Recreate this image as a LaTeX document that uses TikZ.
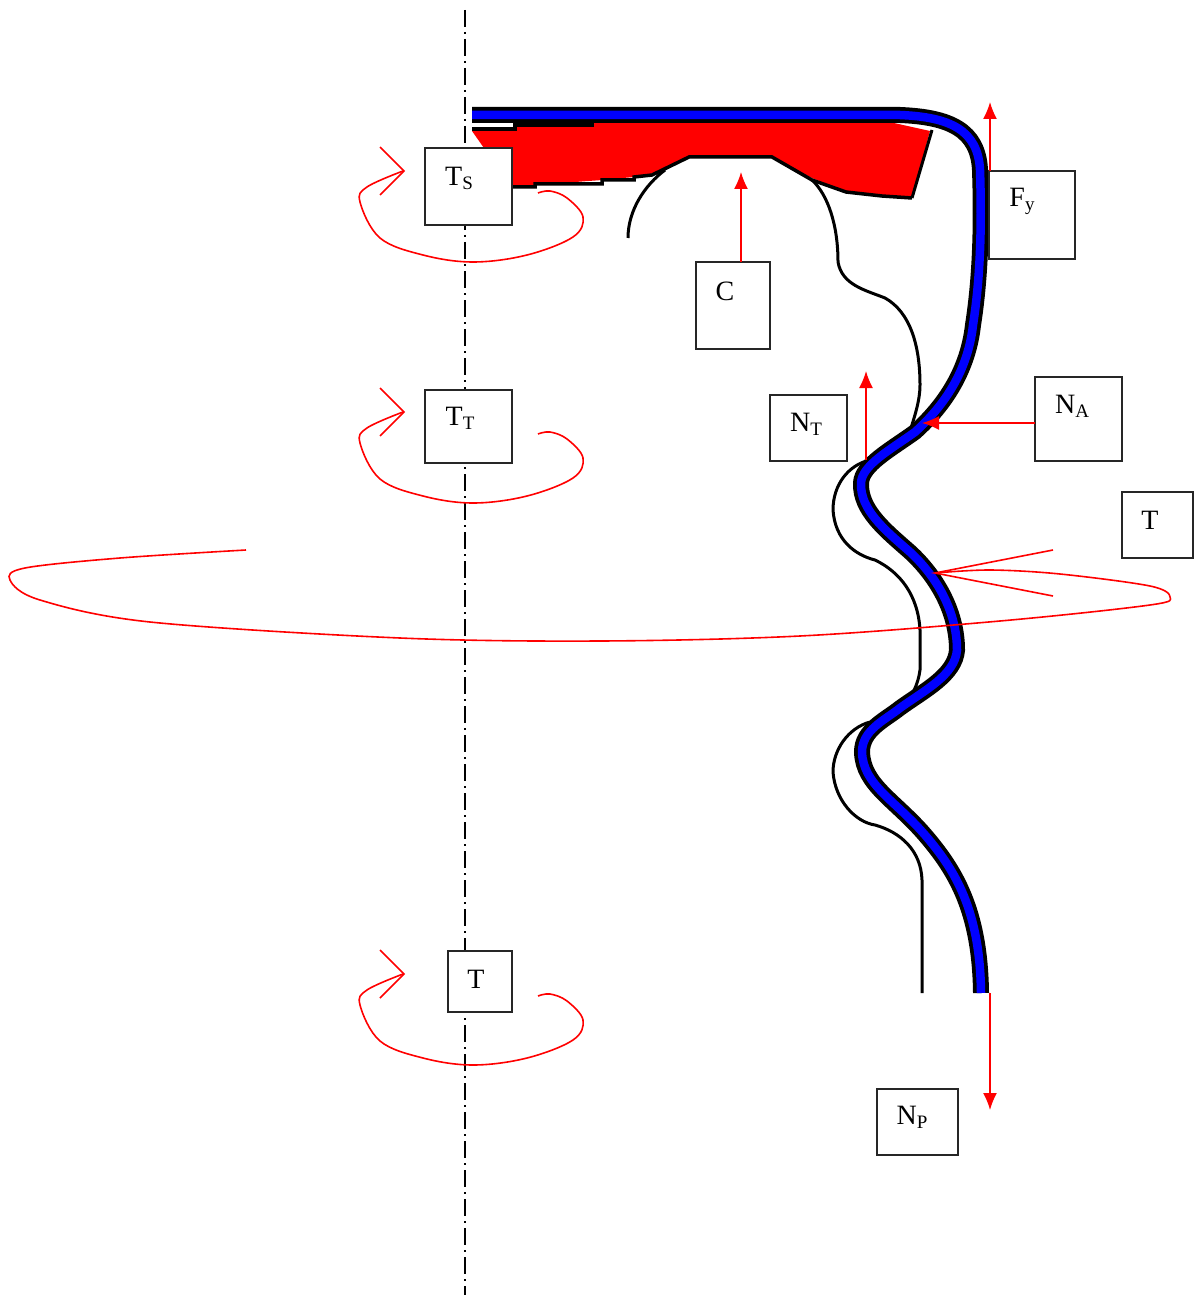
\documentclass[tikz,border=0pt]{standalone}
\usepackage{fontspec}
\setmainfont{Liberation Serif}
\usetikzlibrary{arrows.meta}
\tikzset{
  forcebox/.style = {rectangle,draw=black!85,line width=1.5pt,fill=white,inner sep=0pt,outer sep=0pt},
  forcetext/.style = {inner sep=0pt,font=\fontsize{28}{30}\selectfont},
  redline/.style = {draw=red,line width=1.6pt},
  forcearrow/.style = {redline,-{Latex[length=17pt,width=14pt]}},
  blackline/.style = {draw=black,line width=3pt},
}
\newcommand{\sublabel}[1]{\raisebox{-4pt}{\fontsize{19}{20}\selectfont #1}}
\begin{document}
\begin{tikzpicture}[x=1pt,y=-1pt]
\useasboundingbox (0,0) rectangle (1193,1297);
% axis
\coordinate (axistop) at (465,10);
\coordinate (axisbot) at (465,1295);
\draw[black,line width=1.5pt,dash pattern=on 17pt off 5pt on 2pt off 5pt] (axistop) -- (axisbot);
% red part
\fill[red] (472,131) -- (515,127) -- (594,123) -- (894,123) -- (930,131) -- (912,198)
  -- (882,197) -- (846,192) -- (812,178) -- (772,157) -- (689,157) -- (660,172) -- (634,177)
  -- (602,180) -- (535,185) -- (512,188) -- cycle;
\draw[blackline,line width=4pt] (472,129) -- (515,129) -- (515,125) -- (594,125);
\draw[blackline,line width=3.5pt] (512,187) -- (535,187) -- (535,184) -- (602,184) -- (602,180) -- (634,180)
  -- (634,177) -- (652,175) -- (689,157) -- (772,157) -- (812,180) -- (846,192) -- (882,196) -- (912,198);
\draw[blackline] (912,198) -- (932,130);
% hub
\draw[blackline] (628,238) .. controls (628,210) and (645,185) .. (665,170);
\draw[blackline] (812,180) .. controls (828,195) and (838,225) .. (838,262)
  .. controls (842,285) and (865,290) .. (885,298)
  .. controls (910,312) and (920,345) .. (920,385)
  .. controls (920,400) and (915,415) .. (911,428);
\draw[blackline] (870,460) .. controls (848,465) and (833,485) .. (833,510)
  .. controls (835,540) and (855,555) .. (875,560)
  .. controls (900,572) and (918,595) .. (920,630)
  -- (920,670) .. controls (918,685) and (912,695) .. (907,702);
\draw[blackline] (870,722) .. controls (848,728) and (833,750) .. (833,772)
  .. controls (835,800) and (855,822) .. (875,825)
  .. controls (900,832) and (921,850) .. (922,880) -- (922,993);
% blue sheet
\foreach \col/\wd in {black/16pt,blue/8.5pt}
  \draw[\col,line width=\wd] (472,115) -- (900,115)
    .. controls (950,117) and (978,130) .. (980,170)
    .. controls (982,230) and (980,280) .. (973,325)
    .. controls (968,370) and (945,405) .. (915,432)
    .. controls (890,450) and (862,465) .. (861,483)
    .. controls (860,510) and (885,530) .. (910,552)
    .. controls (935,575) and (957,610) .. (957,650)
    .. controls (955,675) and (925,690) .. (900,708)
    .. controls (885,720) and (862,730) .. (862,752)
    .. controls (863,785) and (895,800) .. (925,835)
    .. controls (955,870) and (980,910) .. (981,993);
% torques
\foreach \ty in {0,241,803}{
  \begin{scope}[yshift=-\ty pt]
  \draw[redline,line join=round] plot[smooth,tension=0.6] coordinates {(538,193) (550,191) (567,198) (583,217) (573,237)
     (527,255) (473,262) (423,255) (380,238) (360,202) (367,187) (403,171)};
  \draw[redline] (380,147) -- (404,171) -- (380,195);
  \end{scope}
}
% big torque
\draw[redline] plot[smooth,tension=0.55] coordinates {(246,550) (120,558) (25,568) (10,580) (40,600) (150,622) (400,638)
   (600,641) (800,636) (1000,621) (1150,605) (1170,597) (1150,586) (1060,574) (990,570) (935,573)};
\draw[redline] (1053,550) -- (935,573) -- (1053,596);
% boxes
\node[forcebox,minimum width=87pt,minimum height=77pt] (tsbox) at (468.5,186.5) {};
\node[forcebox,minimum width=87pt,minimum height=73pt] (ttbox) at (468.5,426.5) {};
\node[forcebox,minimum width=64pt,minimum height=61pt] (tbox) at (480,981.5) {};
\node[forcebox,minimum width=74pt,minimum height=87pt] (cbox) at (733,305.5) {};
\node[forcebox,minimum width=86pt,minimum height=88pt] (fybox) at (1032,215) {};
\node[forcebox,minimum width=77pt,minimum height=66pt] (ntbox) at (808.5,428) {};
\node[forcebox,minimum width=87pt,minimum height=84pt] (nabox) at (1078.5,419) {};
\node[forcebox,minimum width=71pt,minimum height=66pt] (tload) at (1157.5,525) {};
\node[forcebox,minimum width=81pt,minimum height=66pt] (npbox) at (917.5,1122) {};
% labels
\node[forcetext] (tstext) at (459,178) {T\sublabel{S}};
\node[forcetext] (tttext) at (460,418) {T\sublabel{T}};
\node[forcetext] (ttext) at (476,979) {T};
\node[forcetext] (ctext) at (725,291) {C};
\node[forcetext] (fytext) at (1022,201) {F\sublabel{y}};
\node[forcetext] (nttext) at (806,424) {N\sublabel{T}};
\node[forcetext] (natext) at (1072,406) {N\sublabel{A}};
\node[forcetext] (tloadtext) at (1150,520) {T};
\node[forcetext] (nptext) at (912,1117) {N\sublabel{P}};
% forces
\coordinate (ctip) at (741,172);
\coordinate (fytip) at (990,102);
\coordinate (nttip) at (866,371);
\coordinate (ntfoot) at (866,460);
\coordinate (natip) at (922,423);
\coordinate (nptip) at (990,1110);
\coordinate (npfoot) at (990,993);
\draw[forcearrow] (ctip |- cbox.north) -- (ctip);
\draw[forcearrow] (fytip |- fybox.north) -- (fytip);
\draw[forcearrow] (ntfoot) -- (nttip);
\draw[forcearrow] (nabox.west |- natip) -- (natip);
\draw[forcearrow] (npfoot) -- (nptip);
\end{tikzpicture}
\end{document}
